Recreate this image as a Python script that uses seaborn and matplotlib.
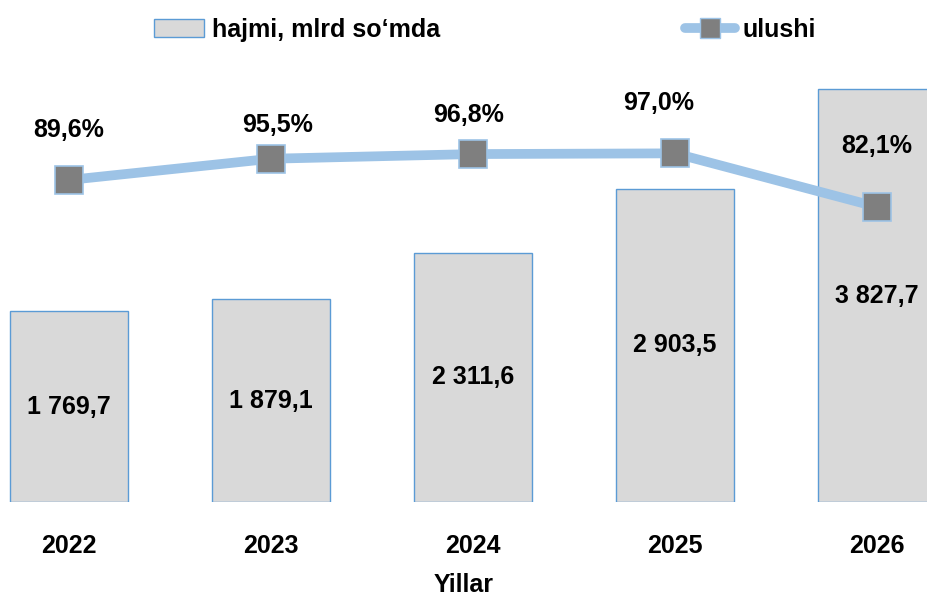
import numpy as np
import pandas as pd
import matplotlib
matplotlib.use("Agg")
import matplotlib.pyplot as plt
from matplotlib.patches import Patch
from matplotlib.lines import Line2D
import seaborn as sns

# chart data
years = ["2022", "2023", "2024", "2025", "2026"]
volume = [1769.7, 1879.1, 2311.6, 2903.5, 3827.7]     # hajmi, mlrd so'mda
share = [89.6, 95.5, 96.8, 97.0, 82.1]                # ulushi, %
volume_labels = ["1 769,7", "1 879,1", "2 311,6", "2 903,5", "3 827,7"]
share_labels = ["89,6%", "95,5%", "96,8%", "97,0%", "82,1%"]

# label placement tweaks (points above marker)
share_label_dy = [36, 24, 28, 36, 44]
share_label_dx = [0, 5, -3, -12, 0]

sns.set_theme(style="white")
plt.rcParams["font.family"] = ["Liberation Sans", "DejaVu Sans"]
plt.rcParams["font.weight"] = "bold"
plt.rcParams["text.color"] = "black"
plt.rcParams["axes.labelcolor"] = "black"
plt.rcParams["xtick.color"] = "black"

bar_fill = "#D9D9D9"
bar_edge = "#5B9BD5"
line_col = "#9DC3E6"
marker_col = "#7F7F7F"
fs = 18

df = pd.DataFrame({"year": years, "volume": volume, "share": share})

fig = plt.figure(figsize=(9.27, 5.99), dpi=100)
ax = fig.add_axes([0.0, 0.162, 1.0, 0.72])

sns.barplot(data=df, x="year", y="volume", ax=ax, color=bar_fill,
            width=0.584, edgecolor=bar_edge, linewidth=1.0, saturation=1)
ax.set_xlim(-0.342, 4.248)
ax.set_ylim(0, 4000)

for i, (v, lab) in enumerate(zip(volume, volume_labels)):
    ax.text(i, v / 2, lab, ha="center", va="center", fontsize=fs,
            fontweight="bold", color="black")

ax2 = ax.twinx()
sns.lineplot(x=np.arange(len(years)), y=df["share"], ax=ax2, color=line_col,
             linewidth=7, marker="s", markersize=20, markerfacecolor=marker_col,
             markeredgecolor=line_col, markeredgewidth=1.2)
ax2.set_ylim(0, 120)
ax2.set_xlim(-0.342, 4.248)

for i, (v, lab) in enumerate(zip(share, share_labels)):
    ax2.annotate(lab, (i, v), xytext=(share_label_dx[i], share_label_dy[i]),
                 textcoords="offset points", ha="center", va="center",
                 fontsize=fs, fontweight="bold", color="black")

for a in (ax, ax2):
    for s in a.spines.values():
        s.set_visible(False)
    a.set_yticks([])
    a.set_ylabel("")
    a.grid(False)

ax.set_xticks(range(len(years)))
ax.set_xticklabels(years, fontsize=fs, fontweight="bold", color="black")
ax.tick_params(axis="x", length=0, pad=23)
ax.set_xlabel("Yillar", fontsize=fs, fontweight="bold", color="black",
              labelpad=11)

handles = [
    Patch(facecolor=bar_fill, edgecolor=bar_edge, linewidth=1.0),
    Line2D([0], [0], color=line_col, linewidth=7, marker="s", markersize=14,
           markerfacecolor=marker_col, markeredgecolor=line_col,
           solid_capstyle="round"),
]
fig.legend(handles, ["hajmi, mlrd so‘mda", "ulushi"], loc="center",
           bbox_to_anchor=(0.523, 0.95), ncol=2, frameon=False,
           prop={"size": fs, "weight": "bold"}, handlelength=2.0,
           handleheight=0.7, handletextpad=0.3, columnspacing=9.8)

fig.savefig("out.png", dpi=100)
